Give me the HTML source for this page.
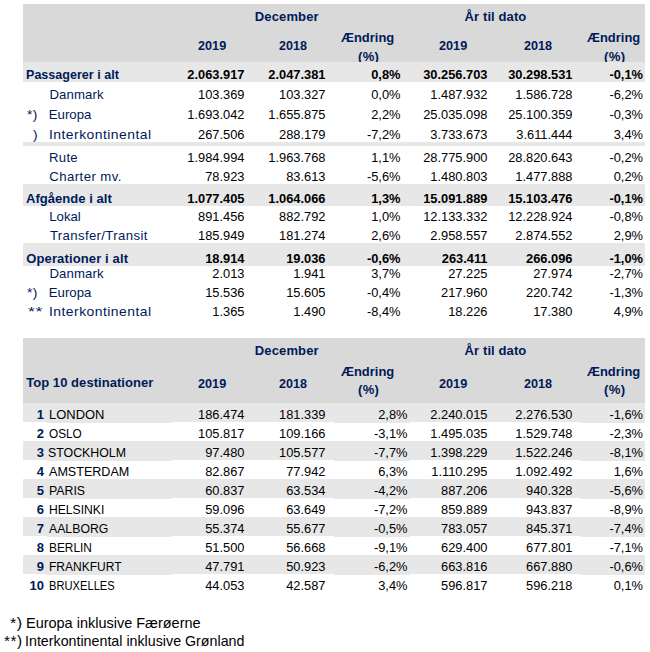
<!DOCTYPE html>
<html><head><meta charset="utf-8"><title>Trafiktal</title>
<style>
html,body{margin:0;padding:0;background:#fff;}
body{width:650px;height:652px;position:relative;overflow:hidden;font-family:"Liberation Sans",sans-serif;}
.r{position:absolute;}
.t{position:absolute;white-space:nowrap;line-height:16px;transform-origin:0 0;}
.b{font-weight:bold;}
</style></head><body>
<div class="r" style="left:23px;top:4px;width:622px;height:58px;background:#d9d9d9"></div>
<div class="t b" style="top:9px;color:#001a58;font-size:13.0px;letter-spacing:0.134px;left:254.79px;">December</div>
<div class="t b" style="top:9px;color:#001a58;font-size:13.0px;letter-spacing:0.102px;left:464.61px;">År til dato</div>
<div class="t b" style="top:38px;color:#001a58;font-size:13.0px;transform:scaleX(0.9742);left:198.05px;">2019</div>
<div class="t b" style="top:38px;color:#001a58;font-size:13.0px;transform:scaleX(0.9641);left:279.25px;">2018</div>
<div class="t b" style="top:38px;color:#001a58;font-size:13.0px;transform:scaleX(0.9742);left:439.05px;">2019</div>
<div class="t b" style="top:38px;color:#001a58;font-size:13.0px;transform:scaleX(0.9711);left:524.05px;">2018</div>
<div class="t b" style="top:30px;color:#001a58;font-size:13.0px;transform:scaleX(0.9955);left:341.39px;">Ændring</div>
<div class="t b" style="top:49px;color:#001a58;font-size:13.0px;letter-spacing:0.39px;left:357.94px;">(%)</div>
<div class="t b" style="top:30px;color:#001a58;font-size:13.0px;transform:scaleX(0.9955);left:586.83px;">Ændring</div>
<div class="t b" style="top:49px;color:#001a58;font-size:13.0px;letter-spacing:0.34px;transform:scaleX(1.0114);left:603.7px;">(%)</div>
<div class="r" style="left:23px;top:62px;width:622px;height:20px;background:#e7e7e7"></div>
<div class="r" style="left:23px;top:142px;width:622px;height:4px;background:#e7e7e7"></div>
<div class="r" style="left:23px;top:184px;width:622px;height:22px;background:#e7e7e7"></div>
<div class="r" style="left:23px;top:243px;width:622px;height:23px;background:#e7e7e7"></div>
<div class="t b" style="top:67px;color:#001a58;font-size:13.0px;transform:scaleX(0.9662);left:26.25px;">Passagerer i alt</div>
<div class="t b" style="top:67px;font-size:12.85px;right:405.50px;">2.063.917</div>
<div class="t b" style="top:67px;font-size:12.85px;right:324.50px;">2.047.381</div>
<div class="t b" style="top:67px;font-size:12.85px;right:249.50px;">0,8%</div>
<div class="t b" style="top:67px;font-size:12.85px;right:162.50px;">30.256.703</div>
<div class="t b" style="top:67px;font-size:12.85px;right:77.50px;">30.298.531</div>
<div class="t b" style="top:67px;font-size:12.85px;right:7.00px;">-0,1%</div>
<div class="t" style="top:87px;color:#001a58;font-size:13.2px;letter-spacing:0.108px;left:49.38px;">Danmark</div>
<div class="t" style="top:87px;font-size:12.85px;right:405.50px;">103.369</div>
<div class="t" style="top:87px;font-size:12.85px;right:324.50px;">103.327</div>
<div class="t" style="top:87px;font-size:12.85px;right:249.50px;">0,0%</div>
<div class="t" style="top:87px;font-size:12.85px;right:162.50px;">1.487.932</div>
<div class="t" style="top:87px;font-size:12.85px;right:77.50px;">1.586.728</div>
<div class="t" style="top:87px;font-size:12.85px;right:7.00px;">-6,2%</div>
<div class="t" style="top:107px;color:#001a58;font-size:13.2px;letter-spacing:0.023px;left:48.76px;">Europa</div>
<div class="t" style="top:107px;color:#001a58;font-size:13.2px;letter-spacing:0.45px;transform:scaleX(1.0466);left:26.83px;">*)</div>
<div class="t" style="top:107px;font-size:12.85px;right:405.50px;">1.693.042</div>
<div class="t" style="top:107px;font-size:12.85px;right:324.50px;">1.655.875</div>
<div class="t" style="top:107px;font-size:12.85px;right:249.50px;">2,2%</div>
<div class="t" style="top:107px;font-size:12.85px;right:162.50px;">25.035.098</div>
<div class="t" style="top:107px;font-size:12.85px;right:77.50px;">25.100.359</div>
<div class="t" style="top:107px;font-size:12.85px;right:7.00px;">-0,3%</div>
<div class="t" style="top:127px;color:#001a58;font-size:13.2px;letter-spacing:0.45px;transform:scaleX(1.0524);left:49.12px;">Interkontinental</div>
<div class="t" style="top:127px;color:#001a58;font-size:13.2px;letter-spacing:0.125px;transform:scaleX(1.037);left:32.87px;">)</div>
<div class="t" style="top:127px;font-size:12.85px;right:405.50px;">267.506</div>
<div class="t" style="top:127px;font-size:12.85px;right:324.50px;">288.179</div>
<div class="t" style="top:127px;font-size:12.85px;right:249.50px;">-7,2%</div>
<div class="t" style="top:127px;font-size:12.85px;right:162.50px;">3.733.673</div>
<div class="t" style="top:127px;font-size:12.85px;right:77.50px;">3.611.444</div>
<div class="t" style="top:127px;font-size:12.85px;right:7.00px;">3,4%</div>
<div class="t" style="top:150px;color:#001a58;font-size:13.2px;letter-spacing:0.297px;transform:scaleX(0.996);left:49.46px;">Rute</div>
<div class="t" style="top:150px;font-size:12.85px;right:405.50px;">1.984.994</div>
<div class="t" style="top:150px;font-size:12.85px;right:324.50px;">1.963.768</div>
<div class="t" style="top:150px;font-size:12.85px;right:249.50px;">1,1%</div>
<div class="t" style="top:150px;font-size:12.85px;right:162.50px;">28.775.900</div>
<div class="t" style="top:150px;font-size:12.85px;right:77.50px;">28.820.643</div>
<div class="t" style="top:150px;font-size:12.85px;right:7.00px;">-0,2%</div>
<div class="t" style="top:169px;color:#001a58;font-size:13.2px;letter-spacing:0.419px;left:49.33px;">Charter mv.</div>
<div class="t" style="top:169px;font-size:12.85px;right:405.50px;">78.923</div>
<div class="t" style="top:169px;font-size:12.85px;right:324.50px;">83.613</div>
<div class="t" style="top:169px;font-size:12.85px;right:249.50px;">-5,6%</div>
<div class="t" style="top:169px;font-size:12.85px;right:162.50px;">1.480.803</div>
<div class="t" style="top:169px;font-size:12.85px;right:77.50px;">1.477.888</div>
<div class="t" style="top:169px;font-size:12.85px;right:7.00px;">0,2%</div>
<div class="t b" style="top:191px;color:#001a58;font-size:13.0px;letter-spacing:0.022px;transform:scaleX(1.0029);left:26.29px;">Afgående i alt</div>
<div class="t b" style="top:191px;font-size:12.85px;right:405.50px;">1.077.405</div>
<div class="t b" style="top:191px;font-size:12.85px;right:324.50px;">1.064.066</div>
<div class="t b" style="top:191px;font-size:12.85px;right:249.50px;">1,3%</div>
<div class="t b" style="top:191px;font-size:12.85px;right:162.50px;">15.091.889</div>
<div class="t b" style="top:191px;font-size:12.85px;right:77.50px;">15.103.476</div>
<div class="t b" style="top:191px;font-size:12.85px;right:7.00px;">-0,1%</div>
<div class="t" style="top:209px;color:#001a58;font-size:13.2px;left:49.26px;">Lokal</div>
<div class="t" style="top:209px;font-size:12.85px;right:405.50px;">891.456</div>
<div class="t" style="top:209px;font-size:12.85px;right:324.50px;">882.792</div>
<div class="t" style="top:209px;font-size:12.85px;right:249.50px;">1,0%</div>
<div class="t" style="top:209px;font-size:12.85px;right:162.50px;">12.133.332</div>
<div class="t" style="top:209px;font-size:12.85px;right:77.50px;">12.228.924</div>
<div class="t" style="top:209px;font-size:12.85px;right:7.00px;">-0,8%</div>
<div class="t" style="top:228px;color:#001a58;font-size:13.2px;letter-spacing:0.358px;left:49.89px;">Transfer/Transit</div>
<div class="t" style="top:228px;font-size:12.85px;right:405.50px;">185.949</div>
<div class="t" style="top:228px;font-size:12.85px;right:324.50px;">181.274</div>
<div class="t" style="top:228px;font-size:12.85px;right:249.50px;">2,6%</div>
<div class="t" style="top:228px;font-size:12.85px;right:162.50px;">2.958.557</div>
<div class="t" style="top:228px;font-size:12.85px;right:77.50px;">2.874.552</div>
<div class="t" style="top:228px;font-size:12.85px;right:7.00px;">2,9%</div>
<div class="t b" style="top:251px;color:#001a58;font-size:13.0px;letter-spacing:0.131px;left:26.25px;">Operationer i alt</div>
<div class="t b" style="top:251px;font-size:12.85px;right:405.50px;">18.914</div>
<div class="t b" style="top:251px;font-size:12.85px;right:324.50px;">19.036</div>
<div class="t b" style="top:251px;font-size:12.85px;right:249.50px;">-0,6%</div>
<div class="t b" style="top:251px;font-size:12.85px;right:162.50px;">263.411</div>
<div class="t b" style="top:251px;font-size:12.85px;right:77.50px;">266.096</div>
<div class="t b" style="top:251px;font-size:12.85px;right:7.00px;">-1,0%</div>
<div class="t" style="top:266px;color:#001a58;font-size:13.2px;letter-spacing:0.108px;left:49.38px;">Danmark</div>
<div class="t" style="top:266px;font-size:12.85px;right:405.50px;">2.013</div>
<div class="t" style="top:266px;font-size:12.85px;right:324.50px;">1.941</div>
<div class="t" style="top:266px;font-size:12.85px;right:249.50px;">3,7%</div>
<div class="t" style="top:266px;font-size:12.85px;right:162.50px;">27.225</div>
<div class="t" style="top:266px;font-size:12.85px;right:77.50px;">27.974</div>
<div class="t" style="top:266px;font-size:12.85px;right:7.00px;">-2,7%</div>
<div class="t" style="top:285px;color:#001a58;font-size:13.2px;letter-spacing:0.023px;left:48.76px;">Europa</div>
<div class="t" style="top:285px;color:#001a58;font-size:13.2px;letter-spacing:0.45px;transform:scaleX(1.0466);left:26.83px;">*)</div>
<div class="t" style="top:285px;font-size:12.85px;right:405.50px;">15.536</div>
<div class="t" style="top:285px;font-size:12.85px;right:324.50px;">15.605</div>
<div class="t" style="top:285px;font-size:12.85px;right:249.50px;">-0,4%</div>
<div class="t" style="top:285px;font-size:12.85px;right:162.50px;">217.960</div>
<div class="t" style="top:285px;font-size:12.85px;right:77.50px;">220.742</div>
<div class="t" style="top:285px;font-size:12.85px;right:7.00px;">-1,3%</div>
<div class="t" style="top:304px;color:#001a58;font-size:13.2px;letter-spacing:0.45px;transform:scaleX(1.0524);left:49.12px;">Interkontinental</div>
<div class="t" style="top:304px;color:#001a58;font-size:13.2px;letter-spacing:0.45px;transform:scaleX(1.3408);left:27.87px;">**</div>
<div class="t" style="top:304px;font-size:12.85px;right:405.50px;">1.365</div>
<div class="t" style="top:304px;font-size:12.85px;right:324.50px;">1.490</div>
<div class="t" style="top:304px;font-size:12.85px;right:249.50px;">-8,4%</div>
<div class="t" style="top:304px;font-size:12.85px;right:162.50px;">18.226</div>
<div class="t" style="top:304px;font-size:12.85px;right:77.50px;">17.380</div>
<div class="t" style="top:304px;font-size:12.85px;right:7.00px;">4,9%</div>
<div class="r" style="left:23px;top:338px;width:622px;height:65px;background:#d9d9d9"></div>
<div class="t b" style="top:343px;color:#001a58;font-size:13.0px;letter-spacing:0.134px;left:254.79px;">December</div>
<div class="t b" style="top:343px;color:#001a58;font-size:13.0px;letter-spacing:0.102px;left:464.61px;">År til dato</div>
<div class="t b" style="top:376px;color:#001a58;font-size:13.0px;transform:scaleX(0.9742);left:198.05px;">2019</div>
<div class="t b" style="top:376px;color:#001a58;font-size:13.0px;transform:scaleX(0.9641);left:279.25px;">2018</div>
<div class="t b" style="top:376px;color:#001a58;font-size:13.0px;transform:scaleX(0.9742);left:439.05px;">2019</div>
<div class="t b" style="top:376px;color:#001a58;font-size:13.0px;transform:scaleX(0.9711);left:524.05px;">2018</div>
<div class="t b" style="top:364px;color:#001a58;font-size:13.0px;transform:scaleX(0.9955);left:341.39px;">Ændring</div>
<div class="t b" style="top:382px;color:#001a58;font-size:13.0px;letter-spacing:0.39px;left:357.94px;">(%)</div>
<div class="t b" style="top:364px;color:#001a58;font-size:13.0px;transform:scaleX(0.9955);left:586.83px;">Ændring</div>
<div class="t b" style="top:382px;color:#001a58;font-size:13.0px;letter-spacing:0.34px;transform:scaleX(1.0114);left:603.7px;">(%)</div>
<div class="t b" style="top:375px;color:#001a58;font-size:13.0px;letter-spacing:0.053px;left:26.2px;">Top 10 destinationer</div>
<div class="r" style="left:23px;top:403px;width:622px;height:19px;background:#e7e7e7"></div>
<div class="r" style="left:47px;top:422px;width:124px;height:1px;background:#e7e7e7"></div>
<div class="r" style="left:334px;top:422px;width:76px;height:1px;background:#e7e7e7"></div>
<div class="r" style="left:581px;top:422px;width:64px;height:1px;background:#e7e7e7"></div>
<div class="t b" style="top:407px;color:#001a58;font-size:13.0px;right:606.10px;">1</div>
<div class="t" style="top:407px;font-size:13.2px;transform:scaleX(0.9821);left:48.72px;">LONDON</div>
<div class="t" style="top:407px;font-size:12.85px;right:405.50px;">186.474</div>
<div class="t" style="top:407px;font-size:12.85px;right:324.50px;">181.339</div>
<div class="t" style="top:407px;font-size:12.85px;right:242.50px;">2,8%</div>
<div class="t" style="top:407px;font-size:12.85px;right:162.50px;">2.240.015</div>
<div class="t" style="top:407px;font-size:12.85px;right:77.50px;">2.276.530</div>
<div class="t" style="top:407px;font-size:12.85px;right:7.00px;">-1,6%</div>
<div class="t b" style="top:426px;color:#001a58;font-size:13.0px;right:606.10px;">2</div>
<div class="t" style="top:426px;font-size:13.2px;transform:scaleX(0.8952);left:48.99px;">OSLO</div>
<div class="t" style="top:426px;font-size:12.85px;right:405.50px;">105.817</div>
<div class="t" style="top:426px;font-size:12.85px;right:324.50px;">109.166</div>
<div class="t" style="top:426px;font-size:12.85px;right:242.50px;">-3,1%</div>
<div class="t" style="top:426px;font-size:12.85px;right:162.50px;">1.495.035</div>
<div class="t" style="top:426px;font-size:12.85px;right:77.50px;">1.529.748</div>
<div class="t" style="top:426px;font-size:12.85px;right:7.00px;">-2,3%</div>
<div class="r" style="left:23px;top:441px;width:622px;height:19px;background:#e7e7e7"></div>
<div class="r" style="left:47px;top:460px;width:124px;height:1px;background:#e7e7e7"></div>
<div class="r" style="left:334px;top:460px;width:76px;height:1px;background:#e7e7e7"></div>
<div class="r" style="left:581px;top:460px;width:64px;height:1px;background:#e7e7e7"></div>
<div class="t b" style="top:445px;color:#001a58;font-size:13.0px;right:606.10px;">3</div>
<div class="t" style="top:445px;font-size:13.2px;transform:scaleX(0.9365);left:48.36px;">STOCKHOLM</div>
<div class="t" style="top:445px;font-size:12.85px;right:405.50px;">97.480</div>
<div class="t" style="top:445px;font-size:12.85px;right:324.50px;">105.577</div>
<div class="t" style="top:445px;font-size:12.85px;right:242.50px;">-7,7%</div>
<div class="t" style="top:445px;font-size:12.85px;right:162.50px;">1.398.229</div>
<div class="t" style="top:445px;font-size:12.85px;right:77.50px;">1.522.246</div>
<div class="t" style="top:445px;font-size:12.85px;right:7.00px;">-8,1%</div>
<div class="t b" style="top:464px;color:#001a58;font-size:13.0px;right:606.10px;">4</div>
<div class="t" style="top:464px;font-size:13.2px;transform:scaleX(0.9528);left:49.07px;">AMSTERDAM</div>
<div class="t" style="top:464px;font-size:12.85px;right:405.50px;">82.867</div>
<div class="t" style="top:464px;font-size:12.85px;right:324.50px;">77.942</div>
<div class="t" style="top:464px;font-size:12.85px;right:242.50px;">6,3%</div>
<div class="t" style="top:464px;font-size:12.85px;right:162.50px;">1.110.295</div>
<div class="t" style="top:464px;font-size:12.85px;right:77.50px;">1.092.492</div>
<div class="t" style="top:464px;font-size:12.85px;right:7.00px;">1,6%</div>
<div class="r" style="left:23px;top:479px;width:622px;height:19px;background:#e7e7e7"></div>
<div class="r" style="left:47px;top:498px;width:124px;height:1px;background:#e7e7e7"></div>
<div class="r" style="left:334px;top:498px;width:76px;height:1px;background:#e7e7e7"></div>
<div class="r" style="left:581px;top:498px;width:64px;height:1px;background:#e7e7e7"></div>
<div class="t b" style="top:483px;color:#001a58;font-size:13.0px;right:606.10px;">5</div>
<div class="t" style="top:483px;font-size:13.2px;transform:scaleX(0.9351);left:49.06px;">PARIS</div>
<div class="t" style="top:483px;font-size:12.85px;right:405.50px;">60.837</div>
<div class="t" style="top:483px;font-size:12.85px;right:324.50px;">63.534</div>
<div class="t" style="top:483px;font-size:12.85px;right:242.50px;">-4,2%</div>
<div class="t" style="top:483px;font-size:12.85px;right:162.50px;">887.206</div>
<div class="t" style="top:483px;font-size:12.85px;right:77.50px;">940.328</div>
<div class="t" style="top:483px;font-size:12.85px;right:7.00px;">-5,6%</div>
<div class="t b" style="top:502px;color:#001a58;font-size:13.0px;right:606.10px;">6</div>
<div class="t" style="top:502px;font-size:13.2px;transform:scaleX(0.9207);left:49.08px;">HELSINKI</div>
<div class="t" style="top:502px;font-size:12.85px;right:405.50px;">59.096</div>
<div class="t" style="top:502px;font-size:12.85px;right:324.50px;">63.649</div>
<div class="t" style="top:502px;font-size:12.85px;right:242.50px;">-7,2%</div>
<div class="t" style="top:502px;font-size:12.85px;right:162.50px;">859.889</div>
<div class="t" style="top:502px;font-size:12.85px;right:77.50px;">943.837</div>
<div class="t" style="top:502px;font-size:12.85px;right:7.00px;">-8,9%</div>
<div class="r" style="left:23px;top:517px;width:622px;height:19px;background:#e7e7e7"></div>
<div class="r" style="left:47px;top:536px;width:124px;height:1px;background:#e7e7e7"></div>
<div class="r" style="left:334px;top:536px;width:76px;height:1px;background:#e7e7e7"></div>
<div class="r" style="left:581px;top:536px;width:64px;height:1px;background:#e7e7e7"></div>
<div class="t b" style="top:521px;color:#001a58;font-size:13.0px;right:606.10px;">7</div>
<div class="t" style="top:521px;font-size:13.2px;transform:scaleX(0.9306);left:49.07px;">AALBORG</div>
<div class="t" style="top:521px;font-size:12.85px;right:405.50px;">55.374</div>
<div class="t" style="top:521px;font-size:12.85px;right:324.50px;">55.677</div>
<div class="t" style="top:521px;font-size:12.85px;right:242.50px;">-0,5%</div>
<div class="t" style="top:521px;font-size:12.85px;right:162.50px;">783.057</div>
<div class="t" style="top:521px;font-size:12.85px;right:77.50px;">845.371</div>
<div class="t" style="top:521px;font-size:12.85px;right:7.00px;">-7,4%</div>
<div class="t b" style="top:540px;color:#001a58;font-size:13.0px;right:606.10px;">8</div>
<div class="t" style="top:540px;font-size:13.2px;transform:scaleX(0.9019);left:49.1px;">BERLIN</div>
<div class="t" style="top:540px;font-size:12.85px;right:405.50px;">51.500</div>
<div class="t" style="top:540px;font-size:12.85px;right:324.50px;">56.668</div>
<div class="t" style="top:540px;font-size:12.85px;right:242.50px;">-9,1%</div>
<div class="t" style="top:540px;font-size:12.85px;right:162.50px;">629.400</div>
<div class="t" style="top:540px;font-size:12.85px;right:77.50px;">677.801</div>
<div class="t" style="top:540px;font-size:12.85px;right:7.00px;">-7,1%</div>
<div class="r" style="left:23px;top:555px;width:622px;height:19px;background:#e7e7e7"></div>
<div class="r" style="left:47px;top:574px;width:124px;height:1px;background:#e7e7e7"></div>
<div class="r" style="left:334px;top:574px;width:76px;height:1px;background:#e7e7e7"></div>
<div class="r" style="left:581px;top:574px;width:64px;height:1px;background:#e7e7e7"></div>
<div class="t b" style="top:559px;color:#001a58;font-size:13.0px;right:606.10px;">9</div>
<div class="t" style="top:559px;font-size:13.2px;transform:scaleX(0.9113);left:49.09px;">FRANKFURT</div>
<div class="t" style="top:559px;font-size:12.85px;right:405.50px;">47.791</div>
<div class="t" style="top:559px;font-size:12.85px;right:324.50px;">50.923</div>
<div class="t" style="top:559px;font-size:12.85px;right:242.50px;">-6,2%</div>
<div class="t" style="top:559px;font-size:12.85px;right:162.50px;">663.816</div>
<div class="t" style="top:559px;font-size:12.85px;right:77.50px;">667.880</div>
<div class="t" style="top:559px;font-size:12.85px;right:7.00px;">-0,6%</div>
<div class="t b" style="top:578px;color:#001a58;font-size:13.0px;right:606.10px;">10</div>
<div class="t" style="top:578px;font-size:13.2px;transform:scaleX(0.8459);left:49.15px;">BRUXELLES</div>
<div class="t" style="top:578px;font-size:12.85px;right:405.50px;">44.053</div>
<div class="t" style="top:578px;font-size:12.85px;right:324.50px;">42.587</div>
<div class="t" style="top:578px;font-size:12.85px;right:242.50px;">3,4%</div>
<div class="t" style="top:578px;font-size:12.85px;right:162.50px;">596.817</div>
<div class="t" style="top:578px;font-size:12.85px;right:77.50px;">596.218</div>
<div class="t" style="top:578px;font-size:12.85px;right:7.00px;">0,1%</div>
<div class="t" style="top:615px;font-size:14.5px;letter-spacing:0.45px;transform:scaleX(1.1105);left:9.89px;">*)</div>
<div class="t" style="top:615px;font-size:14.5px;transform:scaleX(0.9981);left:25.54px;">Europa inklusive Færøerne</div>
<div class="t" style="top:633px;font-size:14.5px;letter-spacing:0.45px;transform:scaleX(1.058);left:3.59px;">**)</div>
<div class="t" style="top:633px;font-size:14.5px;transform:scaleX(0.9828);left:25.41px;">Interkontinental inklusive Grønland</div>
</body></html>
